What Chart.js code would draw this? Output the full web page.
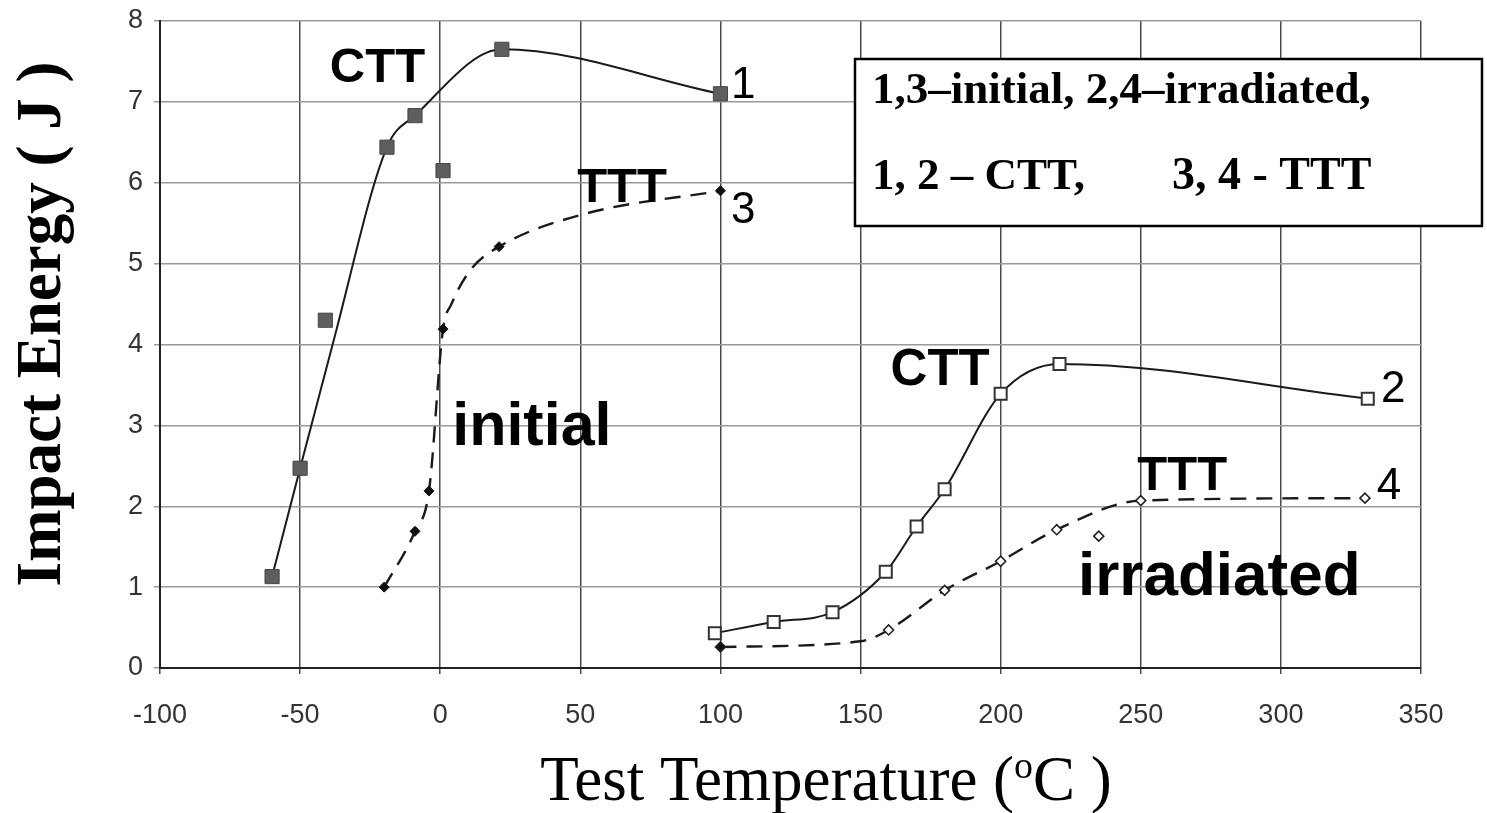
<!DOCTYPE html>
<html>
<head>
<meta charset="utf-8">
<script src="https://cdn.jsdelivr.net/npm/chart.js@4.4.1/dist/chart.umd.min.js"></script>
<style>
  html, body { margin: 0; padding: 0; background: #fff; }
  #chartImpact { display: block; }
</style>
</head>
<body>
<canvas id="chartImpact" width="1487" height="813"></canvas>
<script>
// Charpy impact energy vs test temperature, CTT / TTT specimens

// axis ticks
const xTicks = [-100, -50, 0, 50, 100, 150, 200, 250, 300, 350];
const yTicks = [0, 1, 2, 3, 4, 5, 6, 7, 8];

// 1 - CTT, initial (measured points)
const cttInitT = [-60, -50, -41, -19, -9, 1, 22, 100];
const cttInitE = [1.13, 2.47, 4.30, 6.44, 6.83, 6.15, 7.65, 7.10];
// 1 - fitted curve
const cttInitCurveT = [-60, -50, -38.4, -19, -9, 22, 100];
const cttInitCurveE = [1.13, 2.47, 4.0, 6.44, 6.83, 7.65, 7.10];

// 3 - TTT, initial
const tttInitT = [-20, -9, -4, 1, 21, 100];
const tttInitE = [1.0, 1.69, 2.19, 4.19, 5.21, 5.90];
const tttInitCurveT = [-20, -9, -4, 1, 4, 11, 21, 51, 100];
const tttInitCurveE = [1.0, 1.69, 2.19, 4.19, 4.50, 4.93, 5.21, 5.61, 5.90];

// 2 - CTT, irradiated
const cttIrrT = [98, 119, 140, 159, 170, 180, 200, 221, 331];
const cttIrrE = [0.43, 0.57, 0.69, 1.19, 1.75, 2.21, 3.39, 3.76, 3.33];

// 4 - TTT, irradiated
const tttIrrT = [100, 160, 180, 200, 220, 235, 250, 330];
const tttIrrE = [0.26, 0.47, 0.96, 1.32, 1.71, 1.63, 2.07, 2.10];
const tttIrrCurveT = [100, 150, 160, 180, 200, 220, 250, 330];
const tttIrrCurveE = [0.26, 0.33, 0.47, 0.96, 1.32, 1.71, 2.07, 2.10];

const ARIAL = 'Arial, "Liberation Sans", sans-serif';
const TIMES = '"Times New Roman", "Liberation Serif", serif';
const INK = '#1a1a1a';

// text notes on the plot, placed at (temperature, energy) = baseline centre
const notes = [
    { text: 'CTT',        t: -22.4, e: 7.25, size: 49, bold: true },
    { text: '1',          t: 108.1, e: 7.05, size: 44, bold: false },
    { text: 'TTT',        t: 64.9,  e: 5.76, size: 49, bold: true },
    { text: '3',          t: 108.1, e: 5.50, size: 44, bold: false },
    { text: 'initial',    t: 32.7,  e: 2.76, size: 61, bold: true },
    { text: 'CTT',        t: 178.4, e: 3.50, size: 51, bold: true },
    { text: '2',          t: 340.1, e: 3.29, size: 44, bold: false },
    { text: 'TTT',        t: 264.8, e: 2.20, size: 49, bold: true },
    { text: '4',          t: 338.6, e: 2.09, size: 44, bold: false },
    { text: 'irradiated', t: 278.0, e: 0.90, size: 62, bold: true }
];

const zip = (xs, ys) => xs.map((x, i) => ({ x: x, y: ys[i] }));

const curve = (xs, ys, dash) => ({
    data: zip(xs, ys),
    showLine: true,
    borderColor: INK,
    borderWidth: dash ? 2.4 : 2,
    borderDash: dash ? [16, 10] : [],
    cubicInterpolationMode: 'monotone',
    pointRadius: 0,
    fill: false,
    order: 2
});

const annotate = {
    id: 'annotate',
    afterDraw(chart) {
        const c = chart.ctx;
        const sx = chart.scales.x, sy = chart.scales.y;
        c.save();
        c.fillStyle = '#000';
        c.textAlign = 'center';
        c.textBaseline = 'alphabetic';
        notes.forEach(n => {
            c.font = (n.bold ? 'bold ' : '') + n.size + 'px ' + ARIAL;
            c.fillText(n.text, sx.getPixelForValue(n.t), sy.getPixelForValue(n.e));
        });

        // key box
        c.fillStyle = '#fff';
        c.fillRect(855, 59, 627, 167);
        c.strokeStyle = '#000';
        c.lineWidth = 2.5;
        c.strokeRect(855, 59, 627, 167);
        c.fillStyle = '#000';
        c.textAlign = 'left';
        c.font = 'bold 45px ' + TIMES;
        c.fillText('1,3\u2013initial, 2,4\u2013irradiated,', 872, 103);
        c.fillText('1, 2 \u2013 CTT,', 872, 189);
        c.font = 'bold 46px ' + TIMES;
        c.fillText('3, 4 - TTT', 1172, 189);

        // y axis title
        c.save();
        c.translate(60, 324);
        c.rotate(-Math.PI / 2);
        c.textAlign = 'center';
        c.font = 'bold 63px ' + TIMES;
        c.fillText('Impact Energy ( J )', 0, 0);
        c.restore();

        // x axis title with superscript degree "o"
        const big = '63px ' + TIMES, small = '38px ' + TIMES;
        const p1 = 'Test Temperature (', p2 = 'o', p3 = 'C )';
        c.font = big;
        const w1 = c.measureText(p1).width, w3 = c.measureText(p3).width;
        c.font = small;
        const w2 = c.measureText(p2).width;
        let x0 = 826 - (w1 + w2 + w3) / 2;
        const base = 800;
        c.textAlign = 'left';
        c.font = big;
        c.fillText(p1, x0, base);
        c.font = small;
        c.fillText(p2, x0 + w1, base - 22);
        c.font = big;
        c.fillText(p3, x0 + w1 + w2, base);
        c.restore();
    }
};

new Chart(document.getElementById('chartImpact').getContext('2d'), {
    type: 'scatter',
    data: {
        datasets: [
            curve(cttInitCurveT, cttInitCurveE, false),
            {
                data: zip(cttInitT, cttInitE),
                pointStyle: 'rect',
                pointRadius: 10,
                pointBackgroundColor: '#5e5e5e',
                pointBorderColor: '#454545',
                pointBorderWidth: 1,
                order: 1
            },
            curve(tttInitCurveT, tttInitCurveE, true),
            {
                data: zip(tttInitT, tttInitE),
                pointStyle: 'rectRot',
                pointRadius: 5,
                pointBackgroundColor: '#111',
                pointBorderColor: '#111',
                pointBorderWidth: 1,
                order: 1
            },
            {
                data: zip(cttIrrT, cttIrrE),
                showLine: true,
                borderColor: INK,
                borderWidth: 2,
                cubicInterpolationMode: 'monotone',
                pointStyle: 'rect',
                pointRadius: 8.5,
                pointBackgroundColor: '#fff',
                pointBorderColor: '#333',
                pointBorderWidth: 2,
                order: 1
            },
            curve(tttIrrCurveT, tttIrrCurveE, true),
            {
                data: zip(tttIrrT, tttIrrE),
                pointStyle: 'rectRot',
                pointRadius: 5,
                pointBackgroundColor: (ctx) => ctx.dataIndex === 0 ? '#111' : '#fff',
                pointBorderColor: '#222',
                pointBorderWidth: 1.6,
                order: 1
            }
        ]
    },
    options: {
        responsive: false,
        animation: false,
        events: [],
        layout: { padding: { top: 21, right: 66, left: 0, bottom: 0 } },
        plugins: { legend: { display: false }, tooltip: { enabled: false } },
        scales: {
            x: {
                type: 'linear',
                min: xTicks[0],
                max: xTicks[xTicks.length - 1],
                afterBuildTicks: (s) => { s.ticks = xTicks.map(v => ({ value: v })); },
                afterFit: (s) => { s.height = 145; },
                ticks: { color: '#333', padding: 25, font: { family: ARIAL, size: 27 } },
                grid: { color: '#4a4a4a', lineWidth: 1.5, tickLength: 6 },
                border: { color: '#222', width: 2 }
            },
            y: {
                min: yTicks[0],
                max: yTicks[yTicks.length - 1],
                afterBuildTicks: (s) => { s.ticks = yTicks.map(v => ({ value: v })); },
                afterFit: (s) => { s.width = 160; },
                ticks: { color: '#333', padding: 11, font: { family: ARIAL, size: 27, lineHeight: 0.6 } },
                grid: { color: '#9a9a9a', lineWidth: 1.5, tickLength: 6 },
                border: { color: '#222', width: 2 }
            }
        }
    },
    plugins: [annotate]
});
</script>
</body>
</html>
